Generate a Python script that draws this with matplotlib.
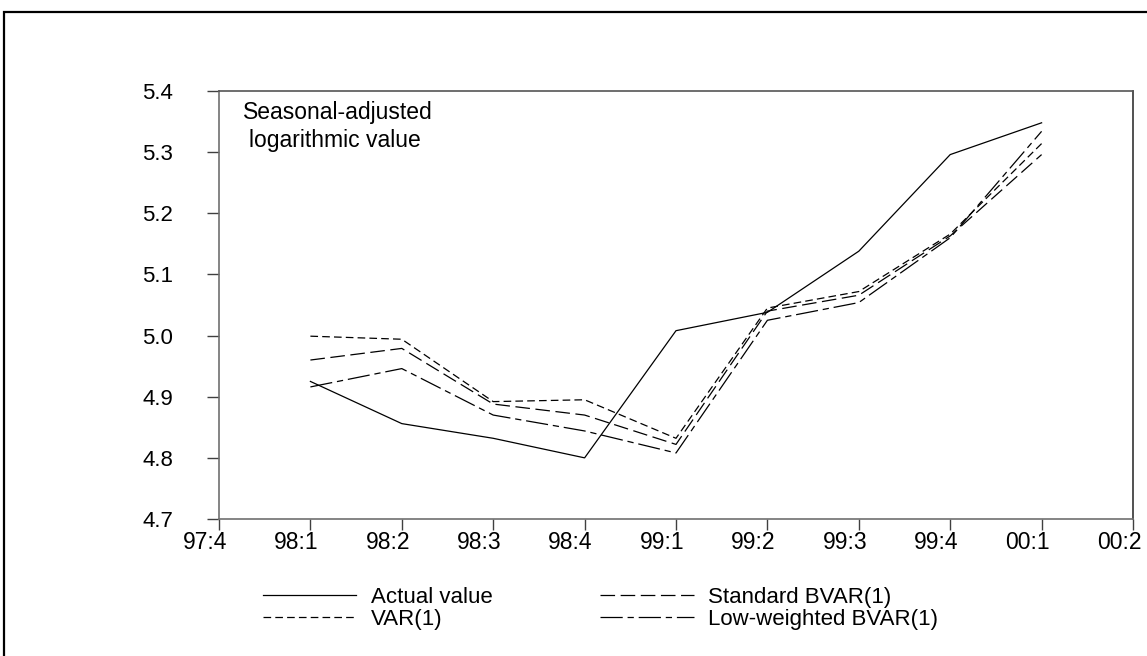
import matplotlib
matplotlib.use("Agg")
import matplotlib.pyplot as plt
import matplotlib.transforms as mtransforms
from matplotlib.patches import Rectangle

plt.rcParams['font.family'] = ['Liberation Sans', 'DejaVu Sans']
plt.rcParams['lines.scale_dashes'] = False

# Quarter labels on the x axis (97:4 .. 00:2)
quarters = ["97:4", "98:1", "98:2", "98:3", "98:4", "99:1", "99:2", "99:3", "99:4", "00:1", "00:2"]
# Forecast period 98:1 .. 00:1
periods = ["98:1", "98:2", "98:3", "98:4", "99:1", "99:2", "99:3", "99:4", "00:1"]

actual_value = [4.925, 4.856, 4.832, 4.800, 5.008, 5.038, 5.138, 5.296, 5.348]
var1 = [4.999, 4.994, 4.892, 4.895, 4.832, 5.045, 5.072, 5.166, 5.314]
standard_bvar1 = [4.960, 4.979, 4.888, 4.870, 4.822, 5.040, 5.066, 5.163, 5.296]
low_weighted_bvar1 = [4.916, 4.946, 4.870, 4.844, 4.808, 5.025, 5.054, 5.160, 5.334]

y_ticks = [4.7, 4.8, 4.9, 5.0, 5.1, 5.2, 5.3, 5.4]

W, H = 1147, 656
fig = plt.figure(figsize=(W / 100, H / 100), dpi=100)

# outer frame around the figure
frame = Rectangle((4 / W, -0.2), 1.2, 1.2 - 12 / H, transform=fig.transFigure,
                  fill=False, edgecolor='black', linewidth=1.6)
fig.patches.append(frame)

left, right, top, bottom = 219, 1133, 91, 519
ax = fig.add_axes([left / W, 1 - bottom / H, (right - left) / W, (bottom - top) / H])

xpos = {q: i for i, q in enumerate(quarters)}
xs = [xpos[p] for p in periods]

lw = 0.9
ax.plot(xs, actual_value, color='black', linewidth=lw, linestyle='-', label='Actual value')
ax.plot(xs, var1, color='black', linewidth=lw, linestyle=(0, (5.5, 3.0)), label='VAR(1)')
ax.plot(xs, standard_bvar1, color='black', linewidth=lw, linestyle=(0, (10.5, 4.0)),
        label='Standard BVAR(1)')
ax.plot(xs, low_weighted_bvar1, color='black', linewidth=lw,
        linestyle=(0, (16.0, 3.5, 4.5, 3.5)), label='Low-weighted BVAR(1)')

ax.set_xlim(0, len(quarters) - 1)
ax.set_ylim(4.7, 5.4)
ax.set_xticks(range(len(quarters)))
ax.set_xticklabels(quarters)
ax.set_yticks(y_ticks)
ax.set_yticklabels([f"{v:.1f}" for v in y_ticks])

spine_color = '#707070'
for s in ax.spines.values():
    s.set_color(spine_color)
    s.set_linewidth(1.2)
ax.spines['top'].set_color('#555555')
ax.spines['right'].set_color('#333333')

ax.tick_params(axis='y', direction='out', length=9, width=1.0, color='#404040',
               pad=24, labelsize=16)
ax.tick_params(axis='x', direction='out', length=8, width=1.0, color='#404040',
               pad=0.5, labelsize=16.5)

# quarter labels sit slightly to the left of their tick marks
shift = mtransforms.ScaledTranslation(-14 / 100, 0, fig.dpi_scale_trans)
for lab in ax.get_xticklabels():
    lab.set_transform(lab.get_transform() + shift)

fig.text(243 / W, 1 - 112 / H, "Seasonal-adjusted", fontsize=16.5, ha='left', va='center')
fig.text(249 / W, 1 - 140 / H, "logarithmic value", fontsize=16.5, ha='left', va='center')

handles, labels = ax.get_legend_handles_labels()
leg = fig.legend(handles, labels,
                 loc='upper left', bbox_to_anchor=(263 / W, 1 - 587 / H),
                 ncol=2, frameon=False, fontsize=16, handlelength=4.2,
                 handletextpad=0.65, columnspacing=4.85, labelspacing=0.05,
                 borderpad=0, borderaxespad=0)

fig.savefig("out.png", dpi=100, facecolor='white')
